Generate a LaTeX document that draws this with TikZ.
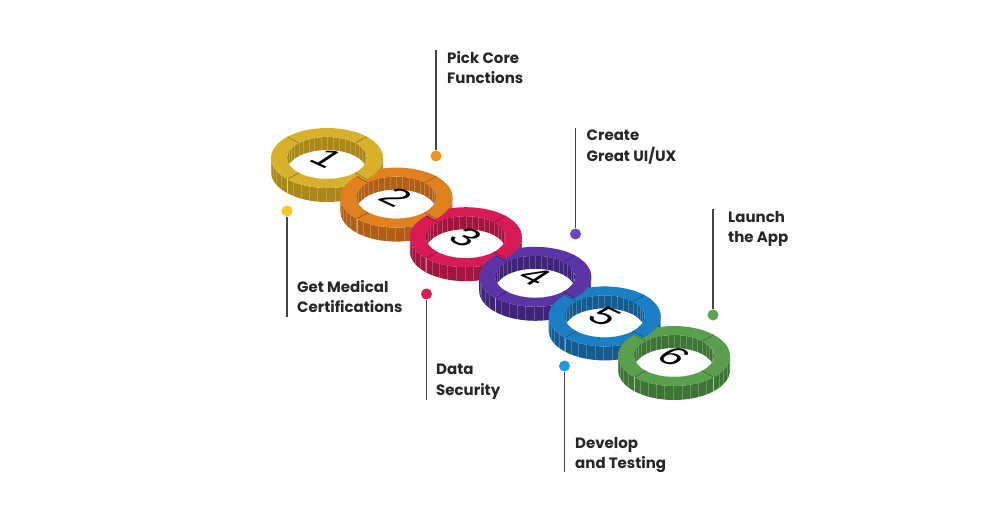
\documentclass[tikz,border=0pt]{standalone}
\usepackage{fontspec}
\setmainfont{Poppins}
\newfontfamily\digitfont{Liberation Sans}
\usetikzlibrary{positioning,calc}
\definecolor{rgyellow}{HTML}{D8B12C}
\definecolor{rgyellowside}{HTML}{A98718}
\definecolor{rgorange}{HTML}{E0801F}
\definecolor{rgorangeside}{HTML}{B05F14}
\definecolor{rgred}{HTML}{D81B55}
\definecolor{rgredside}{HTML}{A3143F}
\definecolor{rgpurple}{HTML}{5C34A6}
\definecolor{rgpurpleside}{HTML}{3F2379}
\definecolor{rgblue}{HTML}{1B7FC4}
\definecolor{rgblueside}{HTML}{135C92}
\definecolor{rggreen}{HTML}{5A9F4D}
\definecolor{rggreenside}{HTML}{3D7634}
\definecolor{dotorange}{HTML}{F7941D}
\definecolor{dotyellow}{HTML}{F8C626}
\definecolor{dotred}{HTML}{D71B55}
\definecolor{dotpurple}{HTML}{6B44C2}
\definecolor{dotblue}{HTML}{1E9BE6}
\definecolor{dotgreen}{HTML}{5EA253}
\definecolor{pingray}{HTML}{444444}

% top face of a ring
\newcommand{\ringtop}[2]{%
 \fill[#2,even odd rule] (#1) ellipse[x radius=56,y radius=30] (#1) ellipse[x radius=40,y radius=21];
 \foreach \ang in {45,135,225,315}
  \draw[#2!65!black,line width=.6pt] ($(#1)+({40*cos(\ang)},{21*sin(\ang)})$) -- ($(#1)+({56*cos(\ang)},{30*sin(\ang)})$);
}
% whole ring: side, inner wall, top, digit
\newcommand{\drawring}[4]{%
 \fill[#3] ($(#1)+(-56,0)$) arc[start angle=180,end angle=360,x radius=56,y radius=30]
  -- ++(0,-14) arc[start angle=0,end angle=-180,x radius=56,y radius=30] -- cycle;
 \foreach \ang in {188,197,...,352}
  \draw[white,opacity=.22,line width=.4pt] ($(#1)+({56*cos(\ang)},{30*sin(\ang)})$) -- ++(0,-14);
 \begin{scope}
  \clip (#1) ellipse[x radius=40,y radius=21];
  \fill[#3,even odd rule] (#1) ellipse[x radius=40,y radius=21] ($(#1)+(0,-13)$) ellipse[x radius=40,y radius=21];
  \foreach \ang in {18,27,...,162}
   \draw[white,opacity=.22,line width=.4pt] ($(#1)+({40*cos(\ang)},{21*sin(\ang)})$) -- ++(0,-13);
 \end{scope}
 \ringtop{#1}{#2}
 \foreach \ang in {225,315}
  \draw[white,opacity=.45,line width=.5pt] ($(#1)+({56*cos(\ang)},{30*sin(\ang)})$) -- ++(0,-14);
 \begin{scope}[shift={(#1)},cm={0.766,-0.354,0.643,0.421,(0,0)}]
  \node[digit,transform shape] (n#4) {#4};
 \end{scope}
}

\begin{document}
\begin{tikzpicture}[x=1pt,y=1pt,
 lbl/.style={anchor=north west,inner sep=0pt,align=left,text=black!85,
  font=\bfseries\fontsize{15}{20.5}\selectfont},
 pin/.style={draw=pingray,line width=1.4pt},
 dot/.style={circle,inner sep=0pt,minimum size=11pt},
 digit/.style={inner sep=0pt,font=\digitfont\fontsize{45}{45}\selectfont}
]
\useasboundingbox[fill=white] (0,0) rectangle (1000,523);

\foreach \i in {1,...,6}
 \coordinate (c\i) at ({327+69.4*(\i-1)},{365-39.6*(\i-1)});

% rings
\drawring{c1}{rgyellow}{rgyellowside}{1}
\drawring{c2}{rgorange}{rgorangeside}{2}
\drawring{c3}{rgred}{rgredside}{3}
\drawring{c4}{rgpurple}{rgpurpleside}{4}
\drawring{c5}{rgblue}{rgblueside}{5}
\drawring{c6}{rggreen}{rggreenside}{6}

% each ring lies over the next one at the upper crossing
\foreach \a/\b/\col in {1/2/rgyellow,2/3/rgorange,3/4/rgred,4/5/rgpurple,5/6/rgblue}{
 \coordinate (m) at ($(c\a)!.5!(c\b)$);
 \begin{scope}
  \clip ($(m)+(-26.1,14.9)$) -- ($(m)+(26.1,-14.9)$) -- ($(m)+(45.9,19.9)$) -- ($(m)+(-6.3,49.7)$) -- cycle;
  \ringtop{c\a}{\col}
 \end{scope}
}

% labels above
\node[dot,fill=dotorange] (d2) at (436,367) {};
\coordinate (t2) at (436,473);
\draw[pin] (d2) -- (t2);
\node[lbl] (l2) at ($(t2)+(11,-1)$) {Pick Core\\Functions};

\node[dot,fill=dotpurple] (d4) at (575.5,289) {};
\coordinate (t4) at (575.5,395);
\draw[pin] (d4) -- (t4);
\node[lbl] (l4) at ($(t4)+(11,-2)$) {Create\\Great UI/UX};

\node[dot,fill=dotgreen] (d6) at (713,208) {};
\coordinate (t6) at (713,314);
\draw[pin] (d6) -- (t6);
\node[lbl] (l6) at ($(t6)+(15,-2)$) {Launch\\the App};

% labels below
\node[dot,fill=dotyellow] (d1) at (287,312) {};
\coordinate (b1) at (287,206);
\draw[pin] (d1) -- (b1);
\node[lbl] (l1) at (297,243) {Get Medical\\Certifications};

\node[dot,fill=dotred] (d3) at (426.5,229) {};
\coordinate (b3) at (426.5,123);
\draw[pin] (d3) -- (b3);
\node[lbl] (l3) at (436,159) {Data\\Security};

\node[dot,fill=dotblue] (d5) at (564.5,157) {};
\coordinate (b5) at (564.5,51);
\draw[pin] (d5) -- (b5);
\node[lbl] (l5) at (575,86) {Develop\\and Testing};
\end{tikzpicture}
\end{document}
